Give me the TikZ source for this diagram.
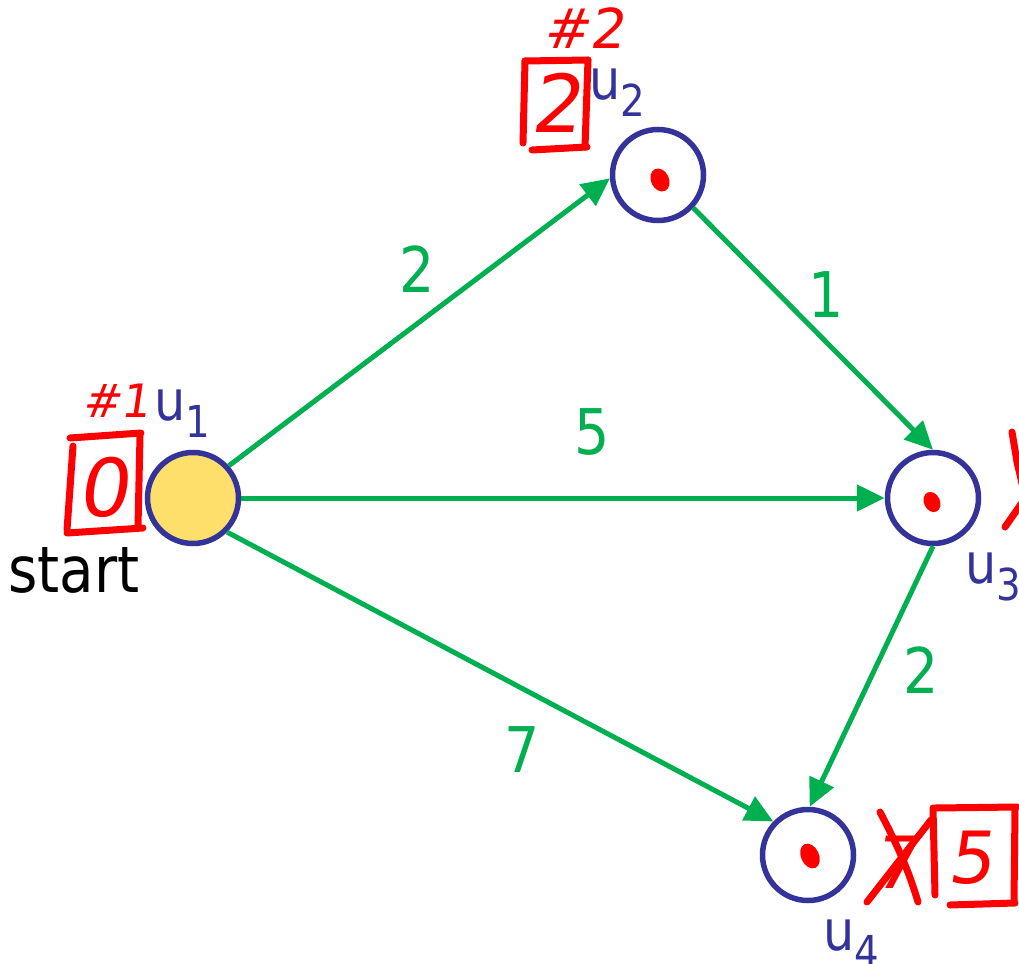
\documentclass[tikz,border=0pt]{standalone}
\usepackage{fontspec}
\setmainfont{DejaVu Sans}[FakeStretch=0.88]
\newfontfamily\hand{DejaVu Sans}[FakeSlant=0.15]
\usetikzlibrary{arrows.meta}
\definecolor{nblue}{HTML}{333399}
\definecolor{nyellow}{HTML}{FFDF6B}
\definecolor{egreen}{HTML}{00B050}
\definecolor{ink}{HTML}{FF0000}
\newcommand\ulab[1]{u\raisebox{-17pt}{\fontsize{44}{44}\selectfont #1}}
\begin{document}
\begin{tikzpicture}[x=1pt,y=-1pt,
  vertex/.style={circle, draw=nblue, line width=5.5pt, minimum size=91pt, inner sep=0pt},
  edge/.style={draw=egreen, line width=5pt, -{Triangle[length=28pt,width=26pt]}},
  elab/.style={text=egreen, inner sep=0pt, font=\fontsize{63}{63}\selectfont},
  ulabel/.style={text=nblue, inner sep=0pt, anchor=base west, font=\fontsize{56}{56}\selectfont},
  stroke/.style={draw=ink, line width=7pt, line cap=round, line join=round},
  handtext/.style={text=ink, inner sep=0pt},
  dot/.style={fill=ink}]
\useasboundingbox (0,0) rectangle (1019,963);
\clip (0,0) rectangle (1019,963);

% vertices
\node[vertex, fill=nyellow] (u1) at (193,498) {};
\node[vertex] (u2) at (658,175) {};
\node[vertex] (u3) at (933,498) {};
\node[vertex] (u4) at (808,855) {};

% red dots
\fill[dot, rotate around={25:(660,180)}] (660,180) ellipse (9 and 12);
\fill[dot, rotate around={25:(932,502)}] (932,502) ellipse (8 and 10.5);
\fill[dot, rotate around={25:(810,856)}] (810,856) ellipse (9 and 13);

% edges
\draw[edge] (u1.42) -- (u2.184);
\draw[edge] (u1.0) -- (u3.180);
\draw[edge] (u1.-45) -- (u4.136);
\draw[edge] (u2.-43) -- (u3.90);
\draw[edge] (u3.270) -- (u4.88);

% edge labels
\node[elab] (l12) at (417,269) {2};
\node[elab] (l13) at (592,432) {5};
\node[elab] (l14) at (522,750) {7};
\node[elab] (l23) at (826,295) {1};
\node[elab] (l34) at (921,670) {2};

% vertex labels
\node[ulabel] (n1) at (154,420) {\ulab{1}};
\node[ulabel] (n2) at (589,100) {\ulab{2}};
\node[ulabel] (n3) at (965,583) {\ulab{3}};
\node[ulabel] (n4) at (823,950) {\ulab{4}};
\node[inner sep=0pt, anchor=base west, font=\fontsize{64}{64}\selectfont] (st) at (8,592) {start};

% handwritten annotations: u1
\node[handtext, font=\hand\fontsize{46}{46}\selectfont] (h1) at (116,401) {\#1};
\draw[stroke] (70,438) -- (141,433);
\draw[stroke] (73,446) -- (67,530);
\draw[stroke] (67,533) -- (143,528);
\draw[stroke] (140,436) -- (138,527);
\node[handtext, font=\hand\fontsize{80}{80}\selectfont] (d1) at (103,487) {0};

% u2
\node[handtext, font=\hand\fontsize{55}{55}\selectfont] (h2) at (584,28) {\#2};
\draw[stroke] (525,61) -- (588,60);
\draw[stroke] (525,61) -- (523,143);
\draw[stroke] (532,150) -- (587,147);
\draw[stroke] (588,60) -- (585,147);
\node[handtext, font=\hand\fontsize{80}{80}\selectfont] (d2) at (556,103) {2};

% u3 (cut at the edge)
\draw[stroke] (1012,432) -- (1017,462) -- (1024,492);
\draw[stroke] (1005,527) -- (1026,497);

% u4
\node[handtext, font=\hand\fontsize{72}{72}\selectfont] (o4) at (895,862) {7};
\draw[stroke] (880,812) .. controls (900,850) and (910,875) .. (918,902);
\draw[stroke] (867,902) -- (931,820);
\draw[stroke] (933,808) -- (935,895);
\draw[stroke] (935,808) -- (1017,807);
\draw[stroke] (1015,808) -- (1014,902);
\draw[stroke] (950,905) -- (1015,903);
\node[handtext, font=\hand\fontsize{72}{72}\selectfont] (d4) at (970,858) {5};
\end{tikzpicture}
\end{document}
